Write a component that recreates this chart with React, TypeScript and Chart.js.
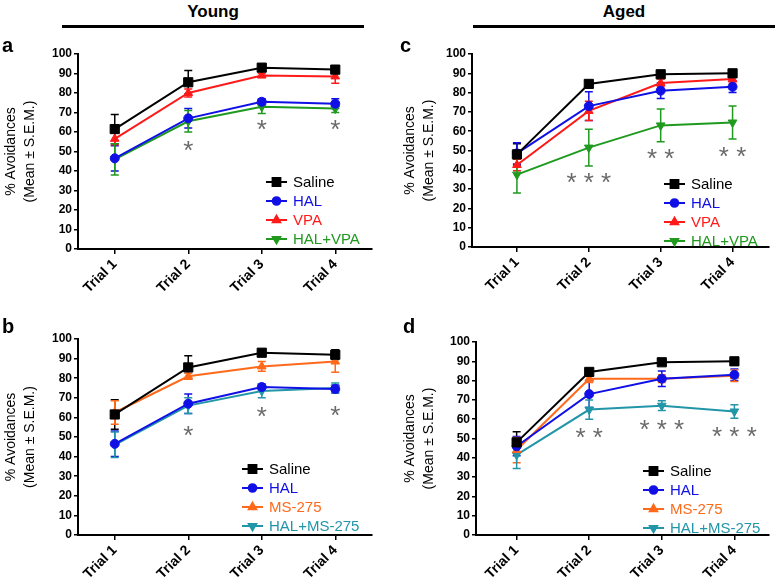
import React, { useEffect, useRef } from 'react';
import { Chart, registerables } from 'chart.js';
import { drawPoint } from 'chart.js/helpers';

Chart.register(...registerables);

const FONT = "'Liberation Sans', Arial, sans-serif";

// ---------- shared ----------
const TRIALS = ['Trial 1', 'Trial 2', 'Trial 3', 'Trial 4'];
const Y_TITLE = ['% Avoidances', '(Mean \u00B1 S.E.M.)'];

// ---------- Panel a : Young, VPA ----------
const A_SALINE = [61.5, 85.5, 93, 92];
const A_SALINE_ERR = [7.5, 6, 1, 2];
const A_HAL = [46.5, 67, 75.5, 74.5];
const A_HAL_ERR = [6.5, 5, 1.5, 2.5];
const A_VPA = [56.5, 80, 89, 88.5];
const A_VPA_ERR = [3, 2, 1, 3.5];
const A_HALVPA = [46, 65.5, 73, 72];
const A_HALVPA_ERR = [8, 5.5, 3.5, 2];
const A_STARS = ['', '*', '*', '*'];
const A_STAR_Y = [0, 54, 64.5, 64.5];

// ---------- Panel b : Young, MS-275 ----------
const B_SALINE = [61.5, 85.5, 93, 92];
const B_SALINE_ERR = [7.5, 6, 1, 2.5];
const B_HAL = [46.5, 67, 75.5, 74.5];
const B_HAL_ERR = [6.5, 5, 1.5, 2];
const B_MS = [62.5, 81, 86, 88.5];
const B_MS_ERR = [6, 1.5, 2.5, 5.5];
const B_HALMS = [46, 66, 73.5, 75];
const B_HALMS_ERR = [6.5, 4, 3.5, 2.5];
const B_STARS = ['', '*', '*', '*'];
const B_STAR_Y = [0, 54, 63.5, 64];

// ---------- Panel c : Aged, VPA ----------
const C_SALINE = [48, 84.5, 89.5, 90];
const C_SALINE_ERR = [5.5, 1.5, 1.5, 1.5];
const C_HAL = [48.5, 73, 81, 83];
const C_HAL_ERR = [5.5, 7.5, 4, 3];
const C_VPA = [42.5, 70.5, 85, 87];
const C_VPA_ERR = [3, 5, 2, 2];
const C_HALVPA = [37.5, 51.5, 63, 64.5];
const C_HALVPA_ERR = [9.5, 9.5, 8.5, 8.5];
const C_STARS = ['', '* * *', '* *', '* *'];
const C_STAR_Y = [0, 36.5, 49, 50];

// ---------- Panel d : Aged, MS-275 ----------
const D_SALINE = [48, 84.5, 89.5, 90];
const D_SALINE_ERR = [5.5, 1.5, 1.5, 1.5];
const D_HAL = [46, 73, 81, 83];
const D_HAL_ERR = [5, 7, 4, 3];
const D_MS = [44, 81, 81, 82.5];
const D_MS_ERR = [6.5, 2, 2, 3];
const D_HALMS = [41.5, 65, 67, 64];
const D_HALMS_ERR = [7, 5, 2.5, 3.5];
const D_STARS = ['', '* *', '* * *', '* * *'];
const D_STAR_Y = [0, 54, 58, 54.5];

// ---------- styles ----------
const C_BLACK = '#000000';
const C_BLUE = '#1010e6';
const C_RED = '#ff1a1a';
const C_GREEN = '#1f9a1f';
const C_ORANGE = '#ff6a1a';
const C_TEAL = '#2296a8';
const STAR_COLOR = '#6a6a6a';

type Series = { name: string; values: number[]; err: number[]; color: string; marker: string; radius: number; rotation: number };

const sal = (v: number[], e: number[]): Series => ({ name: 'Saline', values: v, err: e, color: C_BLACK, marker: 'rect', radius: 6.5, rotation: 0 });
const hal = (v: number[], e: number[]): Series => ({ name: 'HAL', values: v, err: e, color: C_BLUE, marker: 'circle', radius: 4.5, rotation: 0 });
const tri = (name: string, v: number[], e: number[], color: string): Series => ({ name, values: v, err: e, color, marker: 'triangle', radius: 5, rotation: 0 });
const inv = (name: string, v: number[], e: number[], color: string): Series => ({ name, values: v, err: e, color, marker: 'triangle', radius: 5, rotation: 180 });

const PANELS = [
  {
    letter: 'a', letterPos: { left: 2, top: 35 },
    box: { left: 0, top: 36, width: 390, height: 270 },
    padTop: 18, padRight: 18, yWidth: 78, xHeight: 57, xMin: 0.5, xMax: 4.5, titlePad: 1,
    legend: { x: 266, y: 146 },
    series: [sal(A_SALINE, A_SALINE_ERR), hal(A_HAL, A_HAL_ERR), tri('VPA', A_VPA, A_VPA_ERR, C_RED), inv('HAL+VPA', A_HALVPA, A_HALVPA_ERR, C_GREEN)],
    stars: A_STARS, starY: A_STAR_Y,
  },
  {
    letter: 'c', letterPos: { left: 400, top: 35 },
    box: { left: 390, top: 36, width: 386, height: 270 },
    padTop: 18, padRight: 7, yWidth: 82, xHeight: 59, xMin: 0.375, xMax: 4.5, titlePad: 10,
    legend: { x: 274, y: 148 },
    series: [sal(C_SALINE, C_SALINE_ERR), hal(C_HAL, C_HAL_ERR), tri('VPA', C_VPA, C_VPA_ERR, C_RED), inv('HAL+VPA', C_HALVPA, C_HALVPA_ERR, C_GREEN)],
    stars: C_STARS, starY: C_STAR_Y,
  },
  {
    letter: 'b', letterPos: { left: 2, top: 316 },
    box: { left: 0, top: 320, width: 390, height: 265 },
    padTop: 19, padRight: 18, yWidth: 78, xHeight: 50, xMin: 0.5, xMax: 4.5, titlePad: 1,
    legend: { x: 242, y: 149 },
    series: [sal(B_SALINE, B_SALINE_ERR), hal(B_HAL, B_HAL_ERR), tri('MS-275', B_MS, B_MS_ERR, C_ORANGE), inv('HAL+MS-275', B_HALMS, B_HALMS_ERR, C_TEAL)],
    stars: B_STARS, starY: B_STAR_Y,
  },
  {
    letter: 'd', letterPos: { left: 403, top: 316 },
    box: { left: 390, top: 320, width: 386, height: 265 },
    padTop: 22, padRight: 6, yWidth: 86, xHeight: 50, xMin: 0.44, xMax: 4.47, titlePad: 10,
    legend: { x: 253, y: 151 },
    series: [sal(D_SALINE, D_SALINE_ERR), hal(D_HAL, D_HAL_ERR), tri('MS-275', D_MS, D_MS_ERR, C_ORANGE), inv('HAL+MS-275', D_HALMS, D_HALMS_ERR, C_TEAL)],
    stars: D_STARS, starY: D_STAR_Y,
  },
];

const errorBarPlugin = {
  id: 'errorBars',
  beforeDatasetsDraw(chart: any) {
    const { ctx } = chart;
    const ys = chart.scales.y;
    chart.data.datasets.forEach((ds: any, i: number) => {
      const meta = chart.getDatasetMeta(i);
      ctx.save();
      ctx.strokeStyle = ds.borderColor;
      ctx.lineWidth = 1.5;
      meta.data.forEach((pt: any, j: number) => {
        const v = ds.data[j].y;
        const e = ds.err[j];
        const x = pt.x;
        const yt = ys.getPixelForValue(v + e);
        const yb = ys.getPixelForValue(v - e);
        ctx.beginPath();
        ctx.moveTo(x, yt); ctx.lineTo(x, yb);
        ctx.moveTo(x - 4, yt); ctx.lineTo(x + 4, yt);
        ctx.moveTo(x - 4, yb); ctx.lineTo(x + 4, yb);
        ctx.stroke();
      });
      ctx.restore();
    });
  },
};

const starPlugin = {
  id: 'stars',
  afterDatasetsDraw(chart: any, _args: any, opts: any) {
    const { ctx } = chart;
    const xs = chart.scales.x;
    const ys = chart.scales.y;
    const size = 26;
    ctx.save();
    ctx.fillStyle = STAR_COLOR;
    ctx.font = `${size}px ${FONT}`;
    ctx.textAlign = 'center';
    ctx.textBaseline = 'alphabetic';
    (opts.labels || []).forEach((lab: string, i: number) => {
      if (!lab) return;
      const x = xs.getPixelForValue(i + 1);
      const y = ys.getPixelForValue(opts.values[i]);
      ctx.fillText(lab, x, y + size * 0.57);
    });
    ctx.restore();
  },
};

const legendPlugin = {
  id: 'customLegend',
  afterDraw(chart: any, _args: any, opts: any) {
    const { ctx } = chart;
    ctx.save();
    chart.data.datasets.forEach((ds: any, i: number) => {
      const y = opts.y + i * 19;
      const x0 = opts.x;
      const x1 = opts.x + 21;
      ctx.strokeStyle = ds.borderColor;
      ctx.lineWidth = 2;
      ctx.beginPath();
      ctx.moveTo(x0, y); ctx.lineTo(x1, y);
      ctx.stroke();
      ctx.fillStyle = ds.borderColor;
      drawPoint(ctx, { pointStyle: ds.pointStyle, rotation: ds.pointRotation, radius: ds.pointRadius * 0.85, borderWidth: 1 }, (x0 + x1) / 2, y);
      ctx.font = `15px ${FONT}`;
      ctx.textAlign = 'left';
      ctx.textBaseline = 'middle';
      ctx.fillStyle = ds.borderColor;
      ctx.fillText(ds.label, x1 + 6, y + 1);
    });
    ctx.restore();
  },
};

function makeConfig(p: any): any {
  return {
    type: 'line',
    data: {
      datasets: p.series.map((s: Series) => ({
        label: s.name,
        data: s.values.map((v, i) => ({ x: i + 1, y: v })),
        err: s.err,
        borderColor: s.color,
        backgroundColor: s.color,
        pointBackgroundColor: s.color,
        pointBorderColor: s.color,
        pointStyle: s.marker,
        pointRadius: s.radius,
        pointRotation: s.rotation,
        pointBorderWidth: 1,
        borderWidth: 2,
        tension: 0,
        fill: false,
      })),
    },
    options: {
      responsive: false,
      animation: false,
      events: [],
      layout: { padding: { left: 0, top: p.padTop, right: p.padRight, bottom: 0 } },
      plugins: {
        legend: { display: false },
        tooltip: { enabled: false },
        stars: { labels: p.stars, values: p.starY },
        customLegend: { x: p.legend.x, y: p.legend.y },
      },
      scales: {
        x: {
          type: 'linear',
          min: p.xMin,
          max: p.xMax,
          afterBuildTicks: (s: any) => { s.ticks = TRIALS.map((_, i) => ({ value: i + 1 })); },
          afterFit: (s: any) => { s.height = p.xHeight; },
          grid: { drawOnChartArea: false, drawTicks: true, tickLength: 5, color: '#000', lineWidth: 1.5 },
          border: { color: '#000', width: 2 },
          ticks: {
            autoSkip: false,
            maxRotation: 45,
            minRotation: 45,
            padding: 2,
            color: '#000',
            font: { family: FONT, size: 14, weight: 'bold' },
            callback: (v: number) => TRIALS[Math.round(v) - 1] ?? '',
          },
        },
        y: {
          min: 0,
          max: 100,
          afterFit: (s: any) => { s.width = p.yWidth; },
          grid: { drawOnChartArea: false, drawTicks: true, tickLength: 4, color: '#000', lineWidth: 1.5 },
          border: { color: '#000', width: 2 },
          ticks: { stepSize: 10, padding: 2, color: '#000', font: { family: FONT, size: 12, weight: 'bold' } },
          title: {
            display: true,
            text: Y_TITLE,
            color: '#000',
            font: { family: FONT, size: 14, lineHeight: 1.4 },
            padding: { top: p.titlePad, bottom: 0 },
          },
        },
      },
    },
    plugins: [errorBarPlugin, starPlugin, legendPlugin],
  };
}

function Panel({ p }: { p: any }) {
  const ref = useRef<HTMLCanvasElement | null>(null);
  useEffect(() => {
    if (!ref.current) return;
    const chart = new Chart(ref.current, makeConfig(p));
    return () => chart.destroy();
  }, [p]);
  return (
    <canvas
      ref={ref}
      width={p.box.width}
      height={p.box.height}
      style={{ position: 'absolute', left: p.box.left, top: p.box.top, width: p.box.width, height: p.box.height }}
    />
  );
}

export default function App() {
  const header = (text: string, x0: number, x1: number) => (
    <>
      <div style={{ position: 'absolute', left: x0, width: x1 - x0, top: 2, textAlign: 'center', font: `bold 17px ${FONT}`, lineHeight: '20px', color: '#000' }}>{text}</div>
      <div style={{ position: 'absolute', left: x0, width: x1 - x0, top: 25, height: 3, background: '#000' }} />
    </>
  );
  return (
    <div style={{ position: 'absolute', left: 0, top: 0, width: 776, height: 585, background: '#fff', overflow: 'hidden' }}>
      {header('Young', 62, 364)}
      {header('Aged', 473, 775)}
      {PANELS.map((p) => (
        <Panel key={p.letter} p={p} />
      ))}
      {PANELS.map((p) => (
        <div key={'l' + p.letter} style={{ position: 'absolute', left: p.letterPos.left, top: p.letterPos.top, font: `bold 20px ${FONT}`, lineHeight: '20px', color: '#000' }}>{p.letter}</div>
      ))}
    </div>
  );
}
